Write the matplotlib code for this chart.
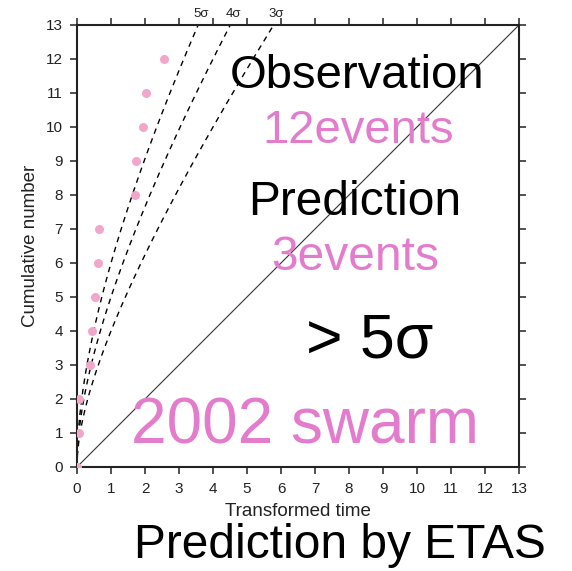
import numpy as np
import matplotlib
matplotlib.use("Agg")
import matplotlib.pyplot as plt

plt.rcParams["font.family"] = ["Liberation Sans", "DejaVu Sans"]

# Observed cumulative events versus transformed time
transformed_time = [0.0, 0.05, 0.07, 0.38, 0.44, 0.53, 0.62, 0.65, 1.71, 1.74, 1.93, 2.03, 2.56]
cumulative_count = [0, 1, 2, 3, 4, 5, 6, 7, 8, 9, 10, 11, 12]

# Confidence envelopes y = t + k*sqrt(t)
sigma_levels = [5, 4, 3]
sigma_labels = ["5σ", "4σ", "3σ"]

axis_max = 13
ticks = list(range(0, 14))

fig = plt.figure(figsize=(5.72, 5.71), dpi=100)
ax = fig.add_axes([77 / 572, 104 / 571, 442 / 572, 442 / 571])

ax.set_xlim(0, axis_max)
ax.set_ylim(0, axis_max)

# expected line
ax.plot([0, axis_max], [0, axis_max], color="#333333", lw=0.8, zorder=2)

for k, lab in zip(sigma_levels, sigma_labels):
    s_end = (-k + np.sqrt(k * k + 4 * axis_max)) / 2
    t_end = s_end ** 2
    s = np.linspace(0, s_end, 400)
    t = s ** 2
    ax.plot(t, t + k * s, color="black", lw=1.0, ls=(0, (4, 3.5)), zorder=2)
    ax.text(t_end + 0.08, axis_max + 0.14, lab, ha="center", va="bottom",
            fontsize=9.5, color="#222222", clip_on=False)

ax.plot(transformed_time, cumulative_count, "o", color="#f3a6cb", ms=6.5,
        mec="none", zorder=3, clip_on=True)

ax.set_xticks(ticks)
ax.set_yticks(ticks)
ax.tick_params(direction="out", length=5, width=1.1, labelsize=11, pad=5,
               top=True, right=True, colors="#222222")
ax.tick_params(axis="x", pad=6)
for sp in ax.spines.values():
    sp.set_linewidth(1.5)
    sp.set_color("#222222")

ax.set_xlabel("Transformed time", fontsize=13.5, color="#222222", labelpad=5)
ax.set_ylabel("Cumulative number", fontsize=13.5, color="#222222", labelpad=5)

pink = "#e47ccd"
ax.text(8.24, 11.15, "Observation", ha="center", va="baseline", fontsize=34, color="black")
ax.text(8.26, 9.53, "12events", ha="center", va="baseline", fontsize=34, color=pink)
ax.text(8.18, 7.41, "Prediction", ha="center", va="baseline", fontsize=34.5, color="black")
ax.text(8.18, 5.79, "3events", ha="center", va="baseline", fontsize=34.5, color=pink)
ax.text(8.62, 3.21, "> 5σ", ha="center", va="baseline", fontsize=45, color="black")
ax.text(6.72, 0.68, "2002 swarm", ha="center", va="baseline", fontsize=46, color=pink)

fig.text(340 / 572, (571 - 558) / 571, "Prediction by ETAS", ha="center", va="baseline",
         fontsize=34.5, color="black")

fig.savefig("out.png", dpi=100)
